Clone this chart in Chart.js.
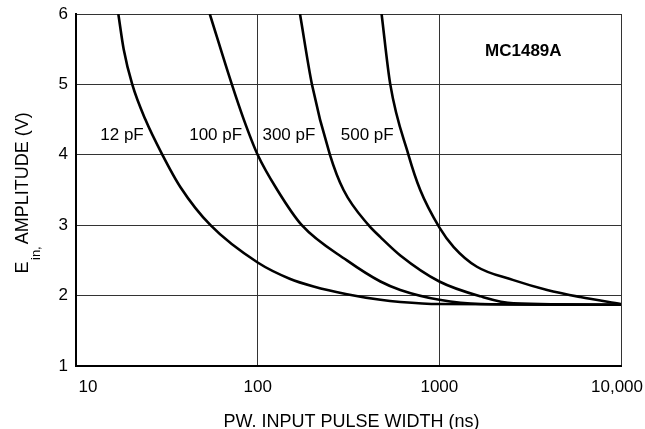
<!DOCTYPE html>
<html>
<head>
<meta charset="utf-8">
<script src="https://cdn.jsdelivr.net/npm/chart.js@4.4.1/dist/chart.umd.min.js"></script>
<style>
  html, body { margin: 0; padding: 0; background: #fff; }
  #wrap { width: 645px; height: 429px; }
</style>
</head>
<body>
<div id="wrap"><canvas id="myChart" width="645" height="429"></canvas></div>
<script>
// pulse width (ns) and amplitude (V)
let pf12_x=[17.1, 18.3, 20.4, 24.1, 29.9, 37.6, 55, 100, 150, 203, 310, 474, 610, 1000, 10000];
let pf12_y=[6, 5.5, 5, 4.5, 4, 3.54, 3, 2.47, 2.24, 2.13, 2.02, 1.94, 1.91, 1.88, 1.87];
let pf100_x=[54.5, 72.1, 83.9, 100, 128.3, 175, 310, 474, 610, 1000, 1683, 10000];
let pf100_y=[6, 5, 4.5, 4, 3.5, 3, 2.5, 2.2, 2.08, 1.94, 1.88, 1.87];
let pf300_x=[171, 199, 250, 297, 408, 474, 610, 1000, 1683, 2560, 10000];
let pf300_y=[6, 5, 4, 3.5, 3, 2.83, 2.57, 2.20, 1.99, 1.89, 1.87];
let pf500_x=[481, 537, 676, 785, 1000, 1200, 1610, 2560, 3920, 5970, 10000];
let pf500_y=[6, 5, 4, 3.5, 2.97, 2.69, 2.41, 2.22, 2.08, 1.98, 1.88];

let series_names=['12 pF','100 pF','300 pF','500 pF'];
let x_ticks=[10, 100, 1000, 10000];
let x_tick_labels=['10', '100', '1000', '10,000'];
let y_ticks=[1, 2, 3, 4, 5, 6];

const SANS='"Liberation Sans", Arial, sans-serif';

function to_points(xs, ys){
    return xs.map((v, i) => ({x: v, y: ys[i]}));
}

function make_dataset(name, xs, ys){
    return {
        label: name,
        data: to_points(xs, ys),
        borderColor: '#000',
        borderWidth: 2.6,
        pointRadius: 0,
        fill: false,
        cubicInterpolationMode: 'monotone'
    };
}

// text that sits on the plot: curve names, part number, axis titles
const annotations={
    id: 'annotations',
    beforeDraw(chart){
        // nudge the end labels of the x axis inside like the original
        const items=chart.scales.x.getLabelItems();
        if(!items._nudged){
            items[0].options.translation[0]+=12;
            items[items.length-1].options.translation[0]-=4;
            items._nudged=true;
        }
    },
    afterDraw(chart){
        const {ctx, chartArea, scales:{x, y}}=chart;
        ctx.save();
        ctx.fillStyle='#000';

        // curve labels, right edge next to each curve
        let label_right=[23.6, 82.1, 207.8, 560.4];
        ctx.font='17px '+SANS;
        ctx.textAlign='right';
        ctx.textBaseline='alphabetic';
        series_names.forEach((n, i) => {
            ctx.fillText(n, x.getPixelForValue(label_right[i]), y.getPixelForValue(4.21));
        });

        ctx.font='bold 17px '+SANS;
        ctx.textAlign='center';
        ctx.fillText('MC1489A', x.getPixelForValue(2900), y.getPixelForValue(5.405));

        // x title
        ctx.font='18px '+SANS;
        ctx.textAlign='center';
        ctx.fillText('PW. INPUT PULSE WIDTH (ns)', (chartArea.left+chartArea.right)/2+3, 427);

        // y title with subscript, rotated
        ctx.translate(27.5, 273.5);
        ctx.rotate(-Math.PI/2);
        ctx.textAlign='left';
        ctx.font='18px '+SANS;
        ctx.fillText('E', 0, 0);
        let w=ctx.measureText('E').width;
        ctx.font='13px '+SANS;
        ctx.fillText('in,', w+1.5, 12.5);
        let w2=ctx.measureText('in,').width;
        ctx.font='18px '+SANS;
        ctx.fillText('AMPLITUDE (V)', w+1.5+w2+2, 0);
        ctx.restore();
    }
};

const ctx=document.getElementById('myChart').getContext('2d');
const myChart=new Chart(ctx, {
    type: 'line',
    data: {
        datasets: [
            make_dataset(series_names[0], pf12_x, pf12_y),
            make_dataset(series_names[1], pf100_x, pf100_y),
            make_dataset(series_names[2], pf300_x, pf300_y),
            make_dataset(series_names[3], pf500_x, pf500_y)
        ]
    },
    options: {
        responsive: false,
        animation: false,
        events: [],
        layout: {padding: {left: 0, right: 24, top: 14, bottom: 0}},
        plugins: {
            legend: {display: false},
            tooltip: {enabled: false}
        },
        scales: {
            x: {
                type: 'logarithmic',
                min: 10,
                max: 10000,
                afterBuildTicks: s => { s.ticks=x_ticks.map(v => ({value: v})); },
                afterFit: s => { s.height=63; s.paddingLeft=0; s.paddingRight=0; },
                ticks: {
                    callback: (v, i) => x_tick_labels[i],
                    autoSkip: false,
                    maxRotation: 0,
                    color: '#000',
                    padding: 11,
                    font: {family: SANS, size: 17}
                },
                grid: {color: '#333', lineWidth: 1, drawTicks: false},
                border: {color: '#000', width: 2}
            },
            y: {
                type: 'linear',
                min: 1,
                max: 6,
                afterBuildTicks: s => { s.ticks=y_ticks.map(v => ({value: v})); },
                afterFit: s => { s.width=76; s.paddingTop=0; s.paddingBottom=0; },
                ticks: {
                    color: '#000',
                    padding: 8,
                    font: {family: SANS, size: 17}
                },
                grid: {color: '#333', lineWidth: 1, drawTicks: false},
                border: {color: '#000', width: 2}
            }
        }
    },
    plugins: [annotations]
});
</script>
</body>
</html>
